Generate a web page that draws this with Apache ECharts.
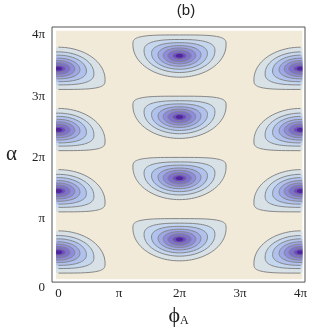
<!DOCTYPE html>
<html>
<head>
<meta charset="utf-8">
<script src="https://cdn.jsdelivr.net/npm/echarts@6/dist/echarts.min.js"></script>
<style>html,body{margin:0;padding:0;background:#fff;}#c{width:312px;height:332px;}</style>
</head>
<body>
<div id="c"></div>
<script>
const PI = Math.PI;
// tick positions (units of π) and labels
const tickValues = [0, 1, 2, 3, 4];
const tickLabels = ['0', 'π', '2π', '3π', '4π'];
// axis / plot ranges (units of π)
const phiAxisRange = [-0.107, 4.074];
const alphaAxisRange = [-0.087, 4.08];
const phiDomain = [-0.04, 4.03];
const alphaDomain = [-0.04, 4.02];
// blob centres (units of π); flip = 1: flat top (bowl), -1: flat bottom (dome)
const bowlPhi = [2, 2, 2, 2];
const bowlAlpha = [0.61, 1.61, 2.61, 3.61];
const domePhi = [0, 0, 0, 0, 4, 4, 4, 4];
const domeAlpha = [0.4, 1.4, 2.4, 3.4, 0.4, 1.4, 2.4, 3.4];
// contour levels: size relative to outermost contour
const levelScales = [1, 0.76, 0.6, 0.46, 0.35, 0.25, 0.15, 0.08];
const levelColors = ['#d7e1e6', '#c5d7ef', '#b1c1ed', '#9fa8e7', '#8e8ddc', '#7d70d0', '#6b50c0', '#52249a'];
// outer contour shape (units of π)
const halfWidth = 0.77;
const flatExtent = 0.34;
const roundExtent = 0.35;
const equatorOffset = 0.18;

const chart = echarts.init(document.getElementById('c'));

const blobData = [];
levelScales.forEach((s, lvl) => {
  bowlPhi.forEach((p, i) => blobData.push([p, bowlAlpha[i], lvl, 1]));
  domePhi.forEach((p, i) => blobData.push([p, domeAlpha[i], lvl, -1]));
});

const lineStyle = { fill: null, stroke: '#858585', lineWidth: 1 };

function renderBlob(params, api) {
  const phi0 = api.value(0), a0 = api.value(1), lvl = api.value(2), flip = api.value(3);
  const s = levelScales[lvl];
  const s3 = s * s * s;
  const nTop = 2 + 1.6 * s3;
  const e = equatorOffset * s3;
  const top = s * (flatExtent + 0.04 * (1 - s));
  const bot = s * (roundExtent + 0.04 * (1 - s));
  const w = halfWidth * s;
  const N = 96;
  const pts = [], inside = [];
  for (let i = 0; i < N; i++) {
    const t = 2 * Math.PI * i / N;
    const c = Math.cos(t), sn = Math.sin(t);
    let dx, dy;
    if (sn >= 0) {
      dx = w * Math.sign(c) * Math.pow(Math.abs(c), 2 / nTop);
      dy = e + (top - e) * Math.pow(sn, 2 / nTop);
    } else {
      dx = w * c;
      dy = e - (bot + e) * (-sn);
    }
    let x = phi0 + dx;
    const y = a0 + flip * dy;
    const inD = x >= phiDomain[0] && x <= phiDomain[1];
    x = Math.min(Math.max(x, phiDomain[0]), phiDomain[1]);
    pts.push(api.coord([x * PI, y * PI]));
    inside.push(inD);
  }
  const children = [{
    type: 'polygon', shape: { points: pts },
    style: { fill: levelColors[lvl], stroke: null }
  }];
  if (lvl < levelScales.length - 1) {
    const start = inside.indexOf(false);
    if (start < 0) {
      children.push({ type: 'polygon', shape: { points: pts }, style: lineStyle });
    } else {
      let run = [];
      for (let k = 1; k <= N; k++) {
        const idx = (start + k) % N;
        if (inside[idx]) run.push(pts[idx]);
        else {
          if (run.length > 1) children.push({ type: 'polyline', shape: { points: run }, style: lineStyle });
          run = [];
        }
      }
      if (run.length > 1) children.push({ type: 'polyline', shape: { points: run }, style: lineStyle });
    }
  }
  return { type: 'group', children };
}

const serif = 'Liberation Serif, DejaVu Serif, serif';

chart.setOption({
  animation: false,
  title: {
    text: '(b)', left: 181, top: -2, textAlign: 'center',
    textStyle: { fontFamily: 'Liberation Sans, Arial, sans-serif', fontSize: 15, fontWeight: 'normal', color: '#222' }
  },
  grid: { left: 52, top: 27, width: 253, height: 262, show: true, borderColor: '#555', borderWidth: 1, backgroundColor: 'transparent' },
  xAxis: {
    type: 'value', min: phiAxisRange[0] * PI, max: phiAxisRange[1] * PI,
    splitLine: { show: false }, axisLine: { show: false },
    axisTick: { inside: true, length: 4, lineStyle: { color: '#555' }, customValues: tickValues.map(v => v * PI) },
    axisLabel: {
      customValues: tickValues.map(v => v * PI), margin: 5,
      alignMinLabel: 'center', alignMaxLabel: 'center',
      formatter: v => tickLabels[Math.round(v / PI)],
      fontFamily: serif, fontSize: 13, color: '#222'
    },
    name: '{p|ϕ}{s|A}', nameLocation: 'middle', nameGap: 17,
    nameTextStyle: { rich: { p: { fontFamily: serif, fontSize: 22, color: '#222' }, s: { fontFamily: serif, fontSize: 12, color: '#222', padding: [10, 0, 0, 0] } } }
  },
  yAxis: {
    type: 'value', min: alphaAxisRange[0] * PI, max: alphaAxisRange[1] * PI,
    splitLine: { show: false }, axisLine: { show: false },
    axisTick: { inside: true, length: 4, lineStyle: { color: '#555' }, customValues: tickValues.map(v => v * PI) },
    axisLabel: {
      customValues: tickValues.map(v => v * PI), margin: 7,
      formatter: v => {
        const i = Math.round(v / PI);
        return i === 0 ? '{m|' + tickLabels[i] + '}' : '{n|' + tickLabels[i] + '}';
      },
      rich: {
        n: { fontFamily: serif, fontSize: 13, color: '#222', padding: [6, 0, 0, 0] },
        m: { fontFamily: serif, fontSize: 13, color: '#222', padding: [0, 0, -22, 0] }
      }
    },
    name: 'α', nameLocation: 'middle', nameRotate: 0, nameGap: 35,
    nameTextStyle: { fontFamily: serif, fontSize: 21, color: '#222' }
  },
  series: [
    {
      type: 'custom', silent: true, z: 1,
      data: [[phiDomain[0], alphaDomain[0], phiDomain[1], alphaDomain[1]]],
      renderItem: (params, api) => {
        const p0 = api.coord([api.value(0) * PI, api.value(1) * PI]);
        const p1 = api.coord([api.value(2) * PI, api.value(3) * PI]);
        return { type: 'rect', shape: { x: p0[0], y: p1[1], width: p1[0] - p0[0], height: p0[1] - p1[1] }, style: { fill: '#f2ead9' } };
      }
    },
    {
      type: 'custom', silent: true, z: 2, clip: true,
      data: blobData,
      renderItem: renderBlob
    }
  ]
});
</script>
</body>
</html>
